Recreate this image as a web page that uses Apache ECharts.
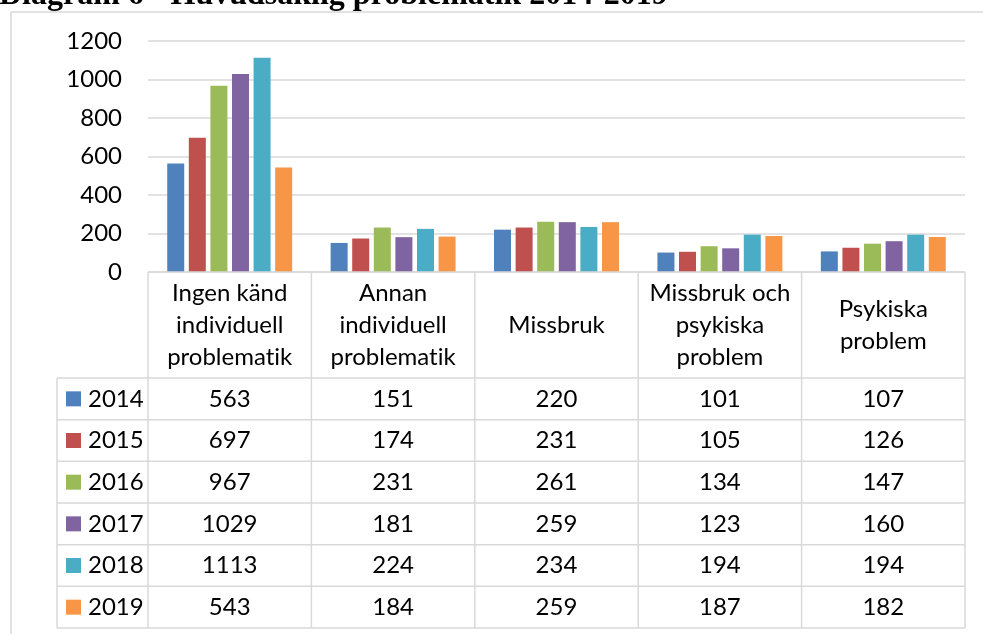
<!DOCTYPE html>
<html>
<head>
<meta charset="UTF-8">
<title>Diagram 6</title>
<script src="https://cdn.jsdelivr.net/npm/echarts@6/dist/echarts.min.js"></script>
<style>
html,body{margin:0;padding:0;background:#fff;}
</style>
</head>
<body>
<div id="main" style="width:983px;height:634px;"></div>
<script type="text/javascript">
// kategorier (rubriker i tabellen)
var categories = ['Ingen känd\nindividuell\nproblematik', 'Annan\nindividuell\nproblematik', 'Missbruk', 'Missbruk och\npsykiska\nproblem', 'Psykiska\nproblem'];
var years = ['2014', '2015', '2016', '2017', '2018', '2019'];
var colors = ['#4F81BD', '#C0504D', '#9BBB59', '#8064A2', '#4BACC6', '#F79646'];
// värden per år
var v2014 = [563, 151, 220, 101, 107];
var v2015 = [697, 174, 231, 105, 126];
var v2016 = [967, 231, 261, 134, 147];
var v2017 = [1029, 181, 259, 123, 160];
var v2018 = [1113, 224, 234, 194, 194];
var v2019 = [543, 184, 259, 187, 182];
var values = [v2014, v2015, v2016, v2017, v2018, v2019];
var yTicks = [0, 200, 400, 600, 800, 1000, 1200];

var FONT = 'Lato';
var FSIZE = 24;
var gridL = 148, gridR = 965, gridT = 41, gridB = 272;
var headerB = 378, rowH = 41.67, legendL = 57;
var lineCol = '#D9D9D9';

var mychart = echarts.init(document.getElementById('main'));

// bryt Latos "ti"-ligatur
function noLig(s) { return s.replace(/ti/g, 't\u200Ci'); }

// tabellen under diagrammet
var colW = (gridR - gridL) / categories.length;
var g = [];
function line(x1, y1, x2, y2) {
  g.push({type: 'line', shape: {x1: x1, y1: y1, x2: x2, y2: y2}, style: {stroke: lineCol, lineWidth: 1.5}, z: 10});
}
function text(x, y, s, align) {
  g.push({type: 'text', style: {text: noLig(s), x: x, y: y, align: align, verticalAlign: 'middle', fill: '#000', font: FSIZE + 'px ' + FONT, lineHeight: 32}, z: 11});
}
var tableB = headerB + rowH * years.length;
// ram
line(11, 12, 983, 12);
line(11, 12, 11, 634);
// horisontella linjer
line(gridL, gridB, gridR, gridB);
for (var r = 0; r <= years.length; r++) {
  line(legendL, headerB + r * rowH, gridR, headerB + r * rowH);
}
// vertikala linjer
line(legendL, headerB, legendL, tableB);
for (var c = 0; c <= categories.length; c++) {
  line(gridL + c * colW, gridB, gridL + c * colW, tableB);
}
// rubriker
for (var c = 0; c < categories.length; c++) {
  text(gridL + (c + 0.5) * colW, (gridB + headerB) / 2, categories[c], 'center');
}
// rader
for (var r = 0; r < years.length; r++) {
  var cy = headerB + (r + 0.5) * rowH;
  g.push({type: 'rect', shape: {x: 66, y: cy - 7.5, width: 15, height: 15}, style: {fill: colors[r]}, z: 11});
  text(88, cy, years[r], 'left');
  for (var c = 0; c < categories.length; c++) {
    text(gridL + (c + 0.5) * colW, cy, String(values[r][c]), 'center');
  }
}
// titel (avklippt upptill)
g.push({type: 'text', style: {text: 'Diagram 6 - Huvudsaklig problematik 2014-2019', x: -1, y: 12, align: 'left', verticalAlign: 'bottom', fill: '#000', font: 'bold 32px "Liberation Serif"'}, z: 11});

var series = [];
for (var i = 0; i < years.length; i++) {
  series.push({
    name: years[i],
    type: 'bar',
    data: values[i],
    barWidth: 17,
    barGap: '27%',
    itemStyle: {color: colors[i]}
  });
}

var option = {
  animation: false,
  grid: {left: gridL, right: 983 - gridR, top: gridT, bottom: 634 - gridB, containLabel: false},
  xAxis: {
    type: 'category',
    data: categories,
    axisLine: {show: false},
    axisTick: {show: false},
    axisLabel: {show: false}
  },
  yAxis: {
    type: 'value',
    min: yTicks[0],
    max: yTicks[yTicks.length - 1],
    interval: 200,
    axisLine: {show: false},
    axisTick: {show: false},
    axisLabel: {color: '#000', fontSize: FSIZE, fontFamily: FONT, margin: 26, formatter: function (v) { return String(v); }},
    splitLine: {lineStyle: {color: lineCol, width: 1.5}}
  },
  series: series,
  graphic: g
};

mychart.setOption(option);
</script>
</body>
</html>
